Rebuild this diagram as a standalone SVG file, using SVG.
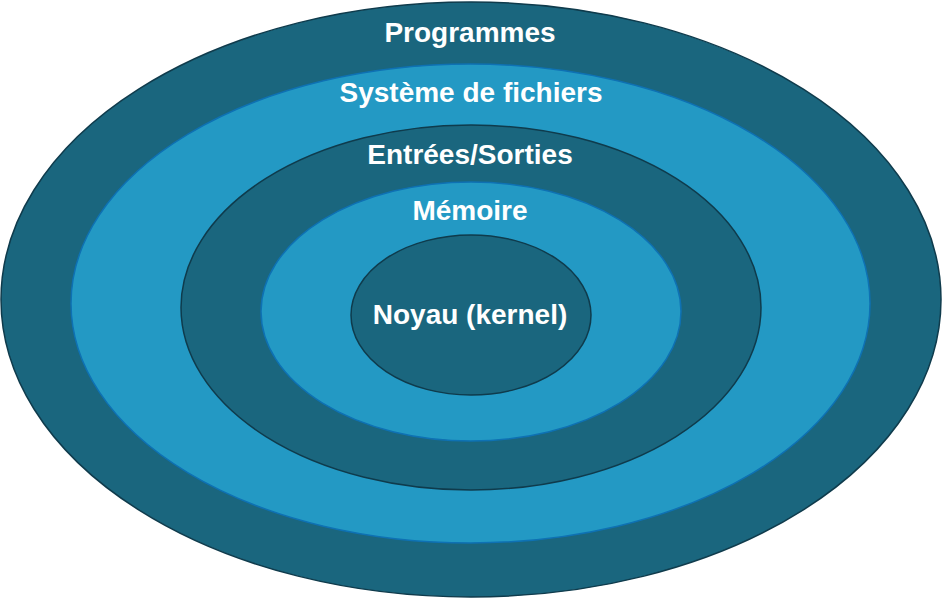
<svg xmlns="http://www.w3.org/2000/svg" width="942" height="598" viewBox="0 0 942 598">
<style>
.dark{fill:#1a667e;stroke:#0f3b4c;stroke-width:1.5}
.light{fill:#2399c4;stroke:#0e71b3;stroke-width:1.5}
text{font-family:"Liberation Sans",Arial,sans-serif;font-weight:bold;font-size:28px;fill:#ffffff;text-anchor:middle}
</style>
<rect width="942" height="598" fill="#ffffff"/>
<g id="programmes"><ellipse class="dark" cx="471" cy="299.5" rx="470" ry="297.5"/><text x="470" y="42">Programmes</text></g>
<g id="fichiers"><ellipse class="light" cx="470.5" cy="303.5" rx="399.5" ry="239.5"/><text x="471" y="102">Système de fichiers</text></g>
<g id="es"><ellipse class="dark" cx="471" cy="307.5" rx="290" ry="182.5"/><text x="470" y="164">Entrées/Sorties</text></g>
<g id="memoire"><ellipse class="light" cx="471" cy="311.5" rx="210" ry="129.5"/><text x="470" y="220">Mémoire</text></g>
<g id="noyau"><ellipse class="dark" cx="471" cy="315" rx="120" ry="80"/><text x="470" y="324">Noyau (kernel)</text></g>
<g id="connectors"/>
</svg>
